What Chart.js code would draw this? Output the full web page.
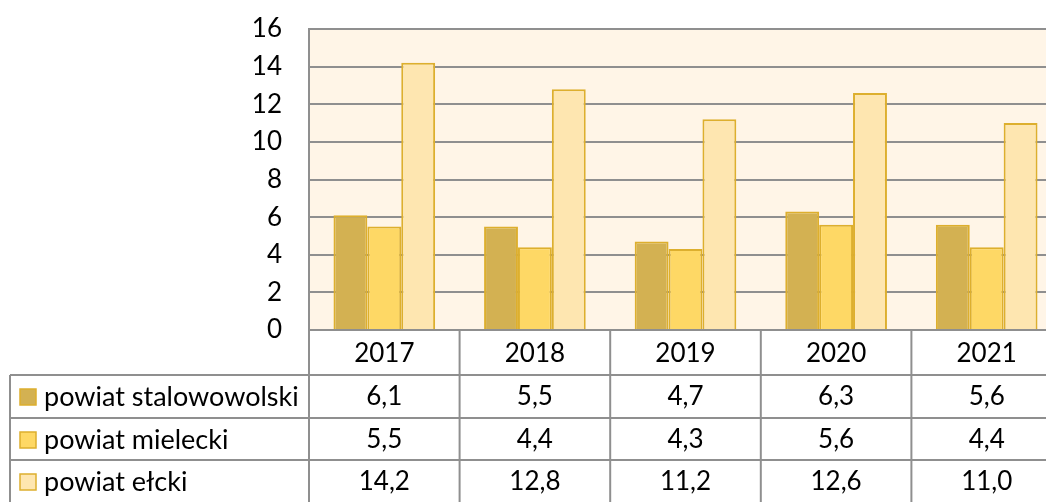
<!DOCTYPE html>
<html>
<head>
<meta charset="utf-8">
<script src="https://cdn.jsdelivr.net/npm/chart.js@4"></script>
<style>
  html, body { margin: 0; padding: 0; background: #fff; overflow: hidden; }
  #wrap { width: 1070px; height: 502px; }
</style>
</head>
<body>
<div id="wrap"><canvas id="chart"></canvas></div>
<script>
// chart data
const years = ['2017', '2018', '2019', '2020', '2021'];
const seriesNames = ['powiat stalowowolski', 'powiat mielecki', 'powiat ełcki'];
const stalowowolski = [6.1, 5.5, 4.7, 6.3, 5.6];
const mielecki = [5.5, 4.4, 4.3, 5.6, 4.4];
const elcki = [14.2, 12.8, 11.2, 12.6, 11.0];
const yTicks = [0, 2, 4, 6, 8, 10, 12, 14, 16];

const fills = ['#D3B152', '#FED865', '#FEE6B0'];
const edge = '#DDAF2E';
const gridGray = '#8f8f8f';
const FONT = 'Lato, "Open Sans", sans-serif';
const FSIZE = 26;

const allSeries = [stalowowolski, mielecki, elcki];

// plot background + data table under the chart
const tablePlugin = {
    id: 'tablePlugin',
    beforeDraw(chart) {
        const { ctx, chartArea } = chart;
        ctx.save();
        ctx.fillStyle = '#FFF5E7';
        ctx.fillRect(chartArea.left, chartArea.top, chartArea.right - chartArea.left, chartArea.bottom - chartArea.top);
        ctx.restore();
    },
    afterDraw(chart) {
        const { ctx, chartArea } = chart;
        const x = chart.scales.x;
        const n = years.length;
        const colW = (chartArea.right - chartArea.left) / n;
        const top = chartArea.bottom;
        const rowLines = [top + 45, top + 88, top + 130];
        const bottom = chart.height;
        const leftEdge = 10;

        ctx.save();
        ctx.strokeStyle = gridGray;
        ctx.lineWidth = 2;

        // horizontal lines
        rowLines.forEach(y => {
            ctx.beginPath();
            ctx.moveTo(leftEdge, y);
            ctx.lineTo(chart.width, y);
            ctx.stroke();
        });
        // left edge of legend column
        ctx.beginPath();
        ctx.moveTo(leftEdge, rowLines[0]);
        ctx.lineTo(leftEdge, bottom);
        ctx.stroke();
        // column boundaries
        for (let i = 0; i <= n; i++) {
            const bx = chartArea.left + i * colW;
            ctx.beginPath();
            ctx.moveTo(bx, i === 0 ? chartArea.top : top);
            ctx.lineTo(bx, bottom);
            ctx.stroke();
        }

        ctx.fillStyle = '#000';
        ctx.font = FSIZE + 'px ' + FONT;
        ctx.textAlign = 'center';
        ctx.textBaseline = 'middle';
        years.forEach((yr, i) => {
            ctx.fillText(yr, x.getPixelForValue(i), top + 24);
        });
        const rowMid = [top + 67, top + 110, top + 152];
        allSeries.forEach((data, s) => {
            data.forEach((v, i) => {
                ctx.fillText(v.toFixed(1).replace('.', ','), x.getPixelForValue(i), rowMid[s]);
            });
        });

        // legend keys
        ctx.textAlign = 'left';
        ctx.font = (FSIZE + 1) + 'px ' + FONT;
        seriesNames.forEach((name, s) => {
            ctx.fillStyle = fills[s];
            ctx.fillRect(20, rowMid[s] - 8, 16, 16);
            ctx.strokeStyle = edge;
            ctx.lineWidth = 1.5;
            ctx.strokeRect(20, rowMid[s] - 8, 16, 16);
            ctx.fillStyle = '#000';
            ctx.fillText(name, 44, rowMid[s]);
        });
        ctx.restore();
    }
};

new Chart(document.getElementById('chart'), {
    type: 'bar',
    data: {
        labels: years,
        datasets: seriesNames.map((name, s) => ({
            label: name,
            data: allSeries[s],
            backgroundColor: fills[s],
            borderColor: edge,
            borderWidth: 2,
            categoryPercentage: 0.675,
            barPercentage: 1
        }))
    },
    options: {
        responsive: true,
        maintainAspectRatio: false,
        animation: false,
        layout: { padding: { top: 29, right: 8, left: 0, bottom: 0 } },
        plugins: { legend: { display: false }, tooltip: { enabled: false } },
        scales: {
            x: {
                grid: { display: false },
                border: { display: false },
                ticks: { display: false },
                afterFit(scale) { scale.height = 172; }
            },
            y: {
                min: 0,
                max: 16,
                afterBuildTicks(scale) { scale.ticks = yTicks.map(v => ({ value: v })); },
                grid: { color: gridGray, lineWidth: 2, drawTicks: false },
                border: { display: true, color: gridGray, width: 2 },
                ticks: { color: '#000', font: { size: FSIZE, family: FONT }, padding: 27 },
                afterFit(scale) {
                    scale.width = 309;
                    scale.paddingTop = 0;
                    scale.paddingBottom = 0;
                }
            }
        }
    },
    plugins: [tablePlugin]
});
</script>
</body>
</html>
